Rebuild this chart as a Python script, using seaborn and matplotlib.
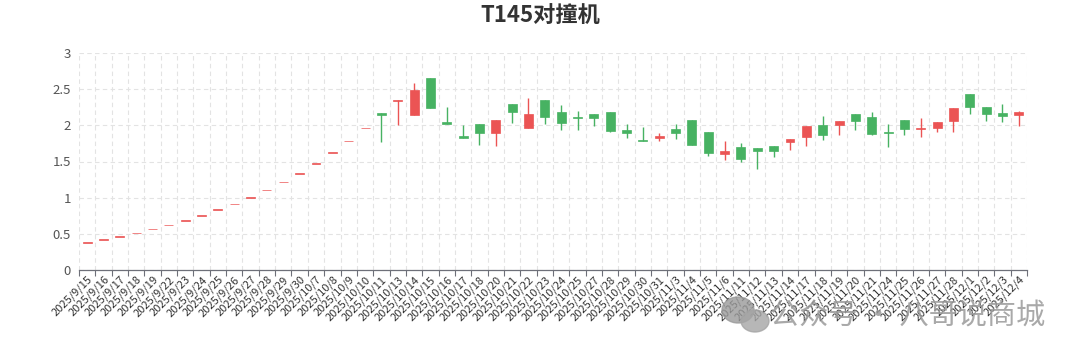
import matplotlib
matplotlib.use("Agg")
import matplotlib.pyplot as plt
from matplotlib.patches import Ellipse
import seaborn as sns
import numpy as np
import pandas as pd

dates = ["2025/9/15", "2025/9/16", "2025/9/17", "2025/9/18", "2025/9/19", "2025/9/22",
         "2025/9/23", "2025/9/24", "2025/9/25", "2025/9/26", "2025/9/27", "2025/9/28",
         "2025/9/29", "2025/9/30", "2025/10/7", "2025/10/8", "2025/10/9", "2025/10/10",
         "2025/10/11", "2025/10/13", "2025/10/14", "2025/10/15", "2025/10/16", "2025/10/17",
         "2025/10/18", "2025/10/20", "2025/10/21", "2025/10/22", "2025/10/23", "2025/10/24",
         "2025/10/25", "2025/10/27", "2025/10/28", "2025/10/29", "2025/10/30", "2025/10/31",
         "2025/11/3", "2025/11/4", "2025/11/5", "2025/11/6", "2025/11/11", "2025/11/12",
         "2025/11/13", "2025/11/14", "2025/11/17", "2025/11/18", "2025/11/19", "2025/11/20",
         "2025/11/21", "2025/11/24", "2025/11/25", "2025/11/26", "2025/11/27", "2025/11/28",
         "2025/12/1", "2025/12/2", "2025/12/3", "2025/12/4"]

opens = [0.38, 0.42, 0.46, 0.51, 0.56, 0.62, 0.68, 0.75, 0.83, 0.91, 1.00, 1.10,
         1.21, 1.33, 1.47, 1.62, 1.78, 1.96,
         2.17, 2.34, 2.14, 2.65, 2.04, 1.85,
         2.02, 1.89, 2.29, 1.97, 2.35, 2.18,
         2.11, 2.16, 2.19, 1.93, 1.80, 1.83,
         1.95, 2.07, 1.91, 1.61, 1.70, 1.69,
         1.71, 1.77, 1.84, 2.01, 2.00, 2.15,
         2.11, 1.91, 2.08, 1.955, 1.96, 2.06,
         2.44, 2.26, 2.17, 2.14]

closes = [0.38, 0.42, 0.46, 0.51, 0.56, 0.62, 0.68, 0.75, 0.83, 0.91, 1.00, 1.10,
          1.21, 1.33, 1.47, 1.62, 1.78, 1.96,
          2.14, 2.35, 2.49, 2.24, 2.02, 1.83,
          1.89, 2.08, 2.18, 2.16, 2.12, 2.03,
          2.10, 2.10, 1.92, 1.90, 1.79, 1.85,
          1.90, 1.73, 1.62, 1.64, 1.54, 1.64,
          1.65, 1.81, 1.99, 1.87, 2.06, 2.06,
          1.88, 1.90, 1.95, 1.965, 2.04, 2.24,
          2.25, 2.15, 2.13, 2.19]

highs = [0.38, 0.42, 0.46, 0.51, 0.56, 0.62, 0.68, 0.75, 0.83, 0.91, 1.00, 1.10,
         1.21, 1.33, 1.47, 1.62, 1.78, 1.96,
         2.17, 2.35, 2.59, 2.65, 2.25, 2.01,
         2.02, 2.08, 2.29, 2.38, 2.35, 2.28,
         2.20, 2.16, 2.19, 2.02, 1.98, 1.89,
         2.02, 2.08, 1.91, 1.78, 1.76, 1.69,
         1.71, 1.81, 1.99, 2.13, 2.06, 2.15,
         2.19, 2.02, 2.08, 2.10, 2.04, 2.24,
         2.44, 2.26, 2.29, 2.20]

lows = [0.38, 0.42, 0.46, 0.51, 0.56, 0.62, 0.68, 0.75, 0.83, 0.91, 1.00, 1.10,
        1.21, 1.33, 1.47, 1.62, 1.78, 1.96,
        1.77, 2.01, 2.14, 2.24, 2.02, 1.83,
        1.73, 1.71, 2.03, 1.97, 2.02, 1.93,
        1.93, 1.99, 1.91, 1.83, 1.79, 1.78,
        1.81, 1.73, 1.58, 1.52, 1.49, 1.40,
        1.56, 1.66, 1.72, 1.80, 1.86, 1.93,
        1.86, 1.70, 1.87, 1.84, 1.91, 1.91,
        2.16, 2.06, 2.04, 1.99]

yticks = [0, 0.5, 1, 1.5, 2, 2.5, 3]
ytick_labels = ["0", "0.5", "1", "1.5", "2", "2.5", "3"]
title = "T145对撞机"
watermark = "公众号 · 八哥说商城"

UP = "#eb5454"
DOWN = "#47b262"

sns.set_theme(style="whitegrid")
plt.rcParams['font.family'] = ['Noto Sans CJK SC', 'DejaVu Sans']

df = pd.DataFrame({"date": dates, "open": opens, "close": closes,
                   "high": highs, "low": lows})
df["pos"] = np.arange(len(df))
df["up"] = df["close"] >= df["open"]
df["color"] = np.where(df["up"], UP, DOWN)
df["bottom"] = df[["open", "close"]].min(axis=1)
df["height"] = (df["close"] - df["open"]).abs().clip(lower=0.008)

fig = plt.figure(figsize=(10.8, 3.6), dpi=100)
ax = fig.add_axes([79 / 1080, 1 - 270 / 360, (1027 - 79) / 1080, (270 - 53) / 360])

# wicks
ax.vlines(df["pos"], df["low"], df["high"], colors=df["color"], linewidth=1.0, zorder=3)
# bodies
ax.bar(df["pos"], df["height"], bottom=df["bottom"], width=0.55,
       color=df["color"], edgecolor=df["color"], linewidth=0.5, zorder=4)

n = len(df)
ax.set_xlim(-0.5, n - 0.5)
ax.set_ylim(0, 3)
ax.set_yticks(yticks)
ax.set_yticklabels(ytick_labels, fontsize=9.5, color="#555555")
ax.set_xticks(df["pos"])
ax.set_xticklabels(df["date"], rotation=45, ha="right", va="top",
                   rotation_mode="anchor", fontsize=8, color="#333333")
ax.set_xticks(np.arange(-0.5, n, 1), minor=True)
ax.tick_params(axis="x", which="major", length=0, pad=3)
ax.tick_params(axis="x", which="minor", length=4, color="#6e7079", width=0.8,
               bottom=True)
ax.tick_params(axis="y", length=0, pad=6)

ax.grid(False)
ax.grid(True, axis="y", which="major", linestyle=(0, (4, 3)), color="#e3e3e3", linewidth=0.8)
ax.grid(True, axis="x", which="minor", linestyle=(0, (4, 3)), color="#e3e3e3", linewidth=0.8)
ax.set_axisbelow(True)

sns.despine(ax=ax, left=True, top=True, right=True)
ax.spines["bottom"].set_color("#6e7079")
ax.spines["bottom"].set_linewidth(0.9)
ax.set_xlabel("")
ax.set_ylabel("")

fig.text(0.5, 1 - 15 / 360, title, ha="center", va="center", fontsize=16,
         fontweight="bold", color="#333333")

# watermark with a simple chat-bubble icon
fig.patches.append(Ellipse((738 / 1080, 1 - 310 / 360), 32 / 1080, 26 / 360,
                           transform=fig.transFigure, color="#9a9a9a", alpha=0.8, zorder=10))
fig.patches.append(Ellipse((755 / 1080, 1 - 321 / 360), 28 / 1080, 22 / 360,
                           transform=fig.transFigure, color="#a5a5a5", alpha=0.8, zorder=10))
fig.text(1045 / 1080, 1 - 317 / 360, watermark, ha="right", va="center",
         fontsize=21, color="#9a9a9a", alpha=0.85, zorder=11)

fig.savefig("out.png", dpi=100, facecolor="white")
